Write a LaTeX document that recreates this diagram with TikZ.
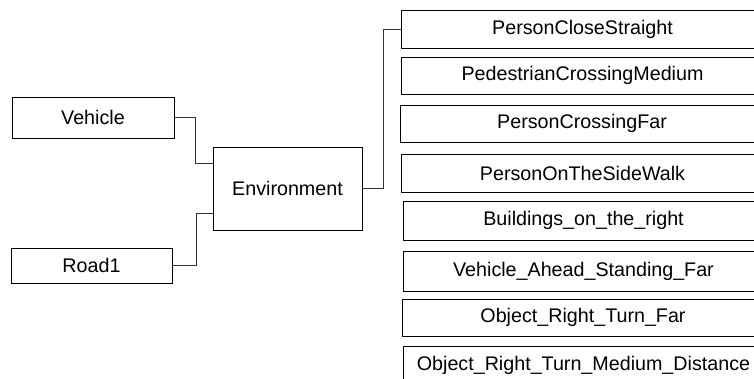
\documentclass[tikz,border=0pt]{standalone}
\usepackage{fontspec}
\setmainfont{Liberation Sans}
\begin{document}
\begin{tikzpicture}[x=1pt,y=-1pt,
  box/.style={draw=black,line width=1pt,inner sep=0pt,font=\fontsize{19.7}{22}\selectfont},
  leaf/.style={box,anchor=west,minimum width=362pt},
  link/.style={draw=black!80,line width=1pt}]
\useasboundingbox (0,0) rectangle (754,378);
\clip (0,0) rectangle (754,378);
% sources
\node[box,minimum width=162pt,minimum height=41pt] (veh) at (93,117.5) {Vehicle};
\node[box,minimum width=161pt,minimum height=35pt] (road) at (91.5,265.5) {Road1};
\node[box,minimum width=149pt,minimum height=83pt] (env) at (287.5,188.5) {Environment};
% situation boxes, running past the right edge
\node[leaf,minimum height=38pt] (p1) at (401,29) {PersonCloseStraight};
\node[leaf,minimum height=37pt] (p2) at (401,75.5) {PedestrianCrossingMedium};
\node[leaf,minimum height=37pt,minimum width=363pt] (p3) at (400,123.5) {PersonCrossingFar};
\node[leaf,minimum height=38pt] (p4) at (401,173) {PersonOnTheSideWalk};
\node[leaf,minimum height=39pt,minimum width=360pt] (p5) at (403,220.5) {Buildings\_on\_the\_right};
\node[leaf,minimum height=40pt,minimum width=360pt] (p6) at (403,271) {Vehicle\_Ahead\_Standing\_Far};
\node[leaf,minimum height=37pt,minimum width=361pt] (p7) at (402,317.5) {Object\_Right\_Turn\_Far};
\node[leaf,minimum height=38pt,minimum width=360pt] (p8) at (403,365) {Object\_Right\_Turn\_Medium\_Distance};
% connectors
\draw[link] (veh.east) -- ++(21,0) |- ([yshift=25.5pt]env.west);
\draw[link] (road.east) -- ++(23.5,0) |- ([yshift=-24.5pt]env.west);
\draw[link] (env.east) -- ++(21,0) |- (p1.west);
\end{tikzpicture}
\end{document}
